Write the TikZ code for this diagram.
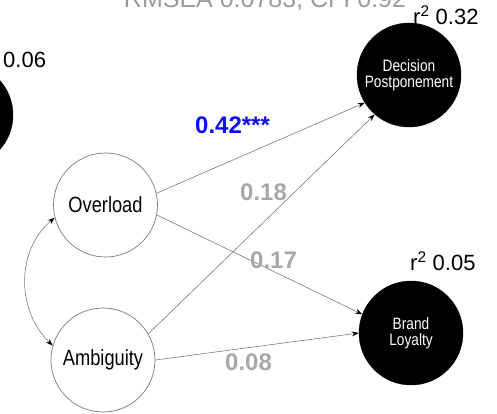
\documentclass[tikz,border=0pt]{standalone}
\usepackage{fontspec}
\setmainfont{Liberation Sans}
\newfontfamily\narrowfont[FakeStretch=0.83]{Liberation Sans}
\usetikzlibrary{arrows.meta}
\definecolor{edgegray}{HTML}{7A7A7A}
\definecolor{coefgray}{HTML}{A8A8A8}
\definecolor{coefblue}{HTML}{0A10EE}
\definecolor{fitgray}{HTML}{9A9A9A}
\tikzset{
  latent/.style={circle, draw=edgegray, line width=0.7pt, minimum size=104pt, inner sep=0pt,
    align=center, font=\narrowfont\fontsize{22}{24}\selectfont},
  outcome/.style={circle, draw=black, fill=black, text=white, minimum size=104pt, inner sep=0pt,
    align=center, font=\narrowfont\fontsize{16.5}{16}\selectfont},
  path/.style={draw=edgegray, line width=0.6pt, -{Stealth[length=7pt,width=5pt,black]}},
  covpath/.style={draw=edgegray, line width=0.6pt, {Stealth[length=7pt,width=5pt,black]}-{Stealth[length=7pt,width=5pt,black]}},
  coef/.style={inner sep=0pt, anchor=base west, font=\bfseries\fontsize{24}{26}\selectfont, text=coefgray},
  rsq/.style={inner sep=0pt, anchor=base west, font=\fontsize{22}{24}\selectfont},
}
\begin{document}
\begin{tikzpicture}[x=1pt, y=-1pt]
  \clip (0,0) rectangle (497,413);

  % fit indices along the top edge
  \node[inner sep=0pt, anchor=base, text=fitgray, font=\fontsize{25}{27}\selectfont] (fit) at (265,7) {RMSEA 0.0783, CFI 0.92};

  % predictors
  \node[latent] (ov) at (105.5,205) {Overload};
  \node[latent] (am) at (103,360) {Ambiguity};

  % outcomes
  \node[outcome] (dp) at (409,75) {Decision\\Postponement};
  \node[outcome] (bl) at (411,333) {Brand\\Loyalty};
  \node[outcome] (left) at (-39,115) {};

  % structural paths
  \draw[path] (ov.13) -- (dp.212);
  \draw[path] (am.30) -- (dp.229);
  \draw[path] (ov.349) -- (bl.159);
  \draw[path] (am.0) -- (bl.180);

  % covariance between predictors
  \draw[covpath] (ov.194) .. controls (16,250) and (16,310) .. (am.164);

  % path coefficients
  \node[coef, text=coefblue] (c1) at (195,133) {0.42***};
  \node[coef] (c2) at (240,200) {0.18};
  \node[coef] (c3) at (250,268) {0.17};
  \node[coef] (c4) at (225,370) {0.08};

  % explained variance
  \node[rsq] (r1) at (413,24) {r\textsuperscript{2} 0.32};
  \node[rsq] (r2) at (410,270) {r\textsuperscript{2} 0.05};
  \node[rsq] (r3) at (3,67) {0.06};
\end{tikzpicture}
\end{document}
